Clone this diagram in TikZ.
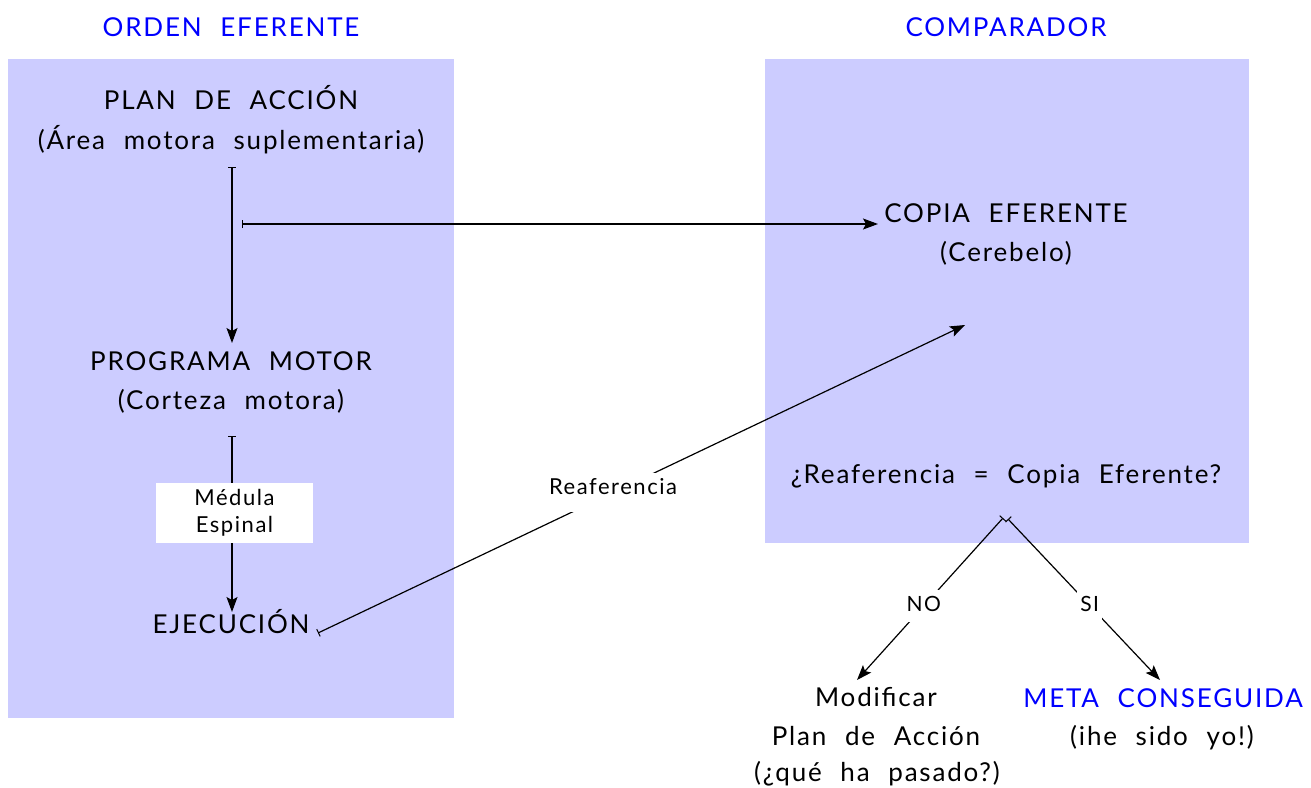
\documentclass[tikz,border=0pt]{standalone}
\usepackage{fontspec}
\setmainfont{Lato}[WordSpace=2.2,LetterSpace=7]
\usetikzlibrary{arrows.meta}
\definecolor{panel}{RGB}{204,204,255}
\definecolor{ttlblue}{RGB}{0,0,255}
\begin{document}
\begin{tikzpicture}[x=1pt,y=-1pt,
  txt/.style={font=\fontsize{26}{30}\selectfont, inner sep=0pt, anchor=base},
  ttl/.style={txt, text=ttlblue},
  lbl/.style={font=\fontsize{21}{24}\selectfont, fill=white, inner xsep=3pt, inner ysep=7pt, text height=15pt, text depth=3pt},
  conn/.style={line width=1.2pt, {Bar[width=8pt,line width=1pt]}-{Stealth[length=15pt,width=11pt,inset=3pt]}}
]
\useasboundingbox (0,0) rectangle (1311,787);
\fill[white] (0,0) rectangle (1311,787);
\fill[panel] (8,59) rectangle (454,718);
\fill[panel] (765,59) rectangle (1249,543);

\node[ttl] (t1) at (231,36) {ORDEN EFERENTE};
\node[ttl] (t2) at (1006,36) {COMPARADOR};
\node[txt] (plan) at (231,109) {PLAN DE ACCIÓN};
\node[txt] (area) at (231,149) {(Área motora suplementaria)};
\node[txt] (prog) at (231,370) {PROGRAMA MOTOR};
\node[txt] (cort) at (231,409) {(Corteza motora)};
\node[txt] (ejec) at (231,633) {EJECUCIÓN};
\node[txt] (copia) at (1006,222) {COPIA EFERENTE};
\node[txt] (cereb) at (1006,261) {(Cerebelo)};
\node[txt] (cmp) at (1006,483) {¿Reaferencia = Copia Eferente?};
\node[txt] (mod1) at (876,706) {Modificar};
\node[txt] (mod2) at (876,745) {Plan de Acción};
\node[txt] (mod3) at (877,781) {(¿qué ha pasado?)};
\node[ttl] (meta) at (1163,707) {META CONSEGUIDA};
\node[txt] (yo) at (1162,745) {(ihe sido yo!)};

\coordinate (a0) at (232,167); \coordinate (a1) at (232,343);
\coordinate (b0) at (242,224); \coordinate (b1) at (878,224);
\coordinate (c0) at (232,436); \coordinate (c1) at (232,612);
\coordinate (d0) at (318,633); \coordinate (d1) at (965,325);
\coordinate (e0) at (1003,518); \coordinate (e1) at (857,680);
\coordinate (f0) at (1008,519); \coordinate (f1) at (1160,680);

\draw[conn] (a0) -- (a1);
\draw[conn] (b0) -- (b1);
\draw[conn] (c0) -- (c1);
\node[fill=white, minimum width=157pt, minimum height=60pt, inner sep=0pt, align=center, font=\fontsize{22}{27}\selectfont] (med) at (234.5,513) {Médula\\Espinal};
\draw[conn] (d0) -- node[lbl, font=\fontsize{22}{24}\selectfont, pos=0.456, text height=15pt, text depth=12pt, inner ysep=6pt] (reaf) {Reaferencia} (d1);
\draw[conn] (e0) -- node[lbl, pos=0.543] (no) {NO} (e1);
\draw[conn] (f0) -- node[lbl, pos=0.5375] (si) {SI} (f1);
\end{tikzpicture}
\end{document}
